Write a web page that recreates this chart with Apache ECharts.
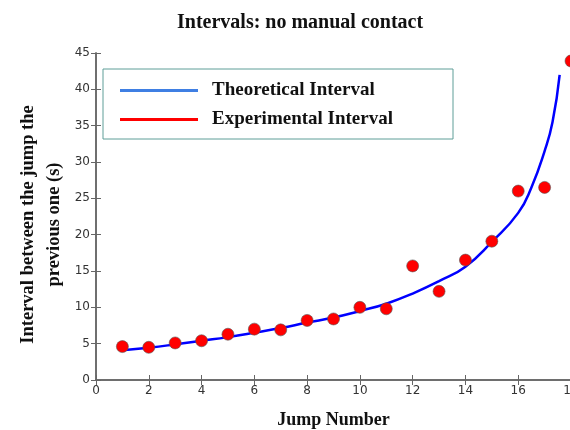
<!DOCTYPE html>
<html>
<head>
<meta charset="utf-8">
<script src="https://cdn.jsdelivr.net/npm/echarts@6/dist/echarts.min.js"></script>
<style>
  html, body { margin: 0; padding: 0; background: #fff; }
  #chart { width: 570px; height: 430px; }
</style>
</head>
<body>
<div id="chart"></div>
<script>
// measured intervals per jump
const jumpNumbers = [1, 2, 3, 4, 5, 6, 7, 8, 9, 10, 11, 12, 13, 14, 15, 16, 17, 18]
const experimental = [4.6, 4.5, 5.1, 5.4, 6.3, 7.0, 6.9, 8.2, 8.4, 10.0, 9.8, 15.7, 12.2, 16.5, 19.1, 26.0, 26.5, 43.9]

// theoretical curve
const theoX = [1, 2, 3, 4, 5, 6, 7, 8, 9, 10, 11, 12, 13, 14, 15, 16, 16.5, 17, 17.3, 17.57]
const theoY = [4.1, 4.45, 4.9, 5.4, 5.9, 6.5, 7.15, 7.9, 8.6, 9.5, 10.5, 11.9, 13.6, 15.6, 19.0, 23.0, 26.5, 31.5, 35.5, 42.0]

const xTicks = { min: 0, max: 18, interval: 2 }
const yTicks = { min: 0, max: 45, interval: 5 }

const serif = '"Liberation Serif", "DejaVu Serif", serif'
const axisGray = '#666'

const chart = echarts.init(document.getElementById('chart'))

const frameAxis = (extra) => Object.assign({
  type: 'value',
  axisLine: { show: true, lineStyle: { color: axisGray, width: 1.5 } },
  axisTick: { show: true, inside: true, length: 5, lineStyle: { color: axisGray } },
  axisLabel: { show: false },
  splitLine: { show: false }
}, extra)

const option = {
  animation: false,
  title: {
    text: 'Intervals: no manual contact',
    left: 172,
    top: 8,
    textStyle: { fontFamily: serif, fontWeight: 'bold', fontSize: 20, color: '#111' }
  },
  legend: {
    orient: 'vertical',
    left: 103,
    top: 69,
    padding: [12, 60, 10, 17],
    itemGap: 10,
    itemWidth: 78,
    itemHeight: 3,
    backgroundColor: '#fff',
    borderColor: '#5f9e98',
    borderWidth: 1,
    borderRadius: 0,
    textStyle: { fontFamily: serif, fontWeight: 'bold', fontSize: 19, color: '#111', padding: [0, 0, 0, 9] },
    data: [
      { name: 'Theoretical Interval', icon: 'rect', itemStyle: { color: '#3f7fe3' } },
      { name: 'Experimental Interval', icon: 'rect', itemStyle: { color: '#ff0000', borderWidth: 0 } }
    ]
  },
  grid: { left: 96, top: 53, right: -1, bottom: 50, outerBoundsMode: 'none', containLabel: false },
  xAxis: [
    frameAxis({
      min: xTicks.min, max: xTicks.max, interval: xTicks.interval,
      name: 'Jump Number',
      nameLocation: 'middle',
      nameGap: 31,
      nameTextStyle: { fontFamily: serif, fontWeight: 'bold', fontSize: 18, color: '#111' },
      axisLabel: { show: true, margin: 5, fontFamily: 'DejaVu Sans', fontSize: 12, color: '#333' }
    }),
    frameAxis({ position: 'top', min: xTicks.min, max: xTicks.max, interval: xTicks.interval })
  ],
  yAxis: [
    frameAxis({
      min: yTicks.min, max: yTicks.max, interval: yTicks.interval,
      name: 'Interval between the jump the\nprevious one (s)',
      nameLocation: 'middle',
      nameRotate: 90,
      nameGap: 29,
      nameMoveOverlap: false,
      nameTextStyle: {
        fontFamily: serif, fontWeight: 'bold', fontSize: 18.5, color: '#111',
        lineHeight: 26, padding: [0, 16, 0, 0]
      },
      axisLabel: { show: true, margin: 6, fontFamily: 'DejaVu Sans', fontSize: 12, color: '#333' }
    }),
    frameAxis({ position: 'right', min: yTicks.min, max: yTicks.max, interval: yTicks.interval })
  ],
  series: [
    {
      name: 'Theoretical Interval',
      type: 'line',
      smooth: true,
      showSymbol: false,
      lineStyle: { color: '#0000ff', width: 2.5 },
      itemStyle: { color: '#0000ff' },
      data: theoX.map((x, i) => [x, theoY[i]]),
      z: 2
    },
    {
      name: 'Experimental Interval',
      type: 'scatter',
      symbolSize: 12,
      itemStyle: { color: '#ff0000', borderColor: '#555', borderWidth: 0.6, opacity: 1 },
      data: jumpNumbers.map((x, i) => [x, experimental[i]]),
      z: 3
    }
  ]
}

chart.setOption(option)
</script>
</body>
</html>
